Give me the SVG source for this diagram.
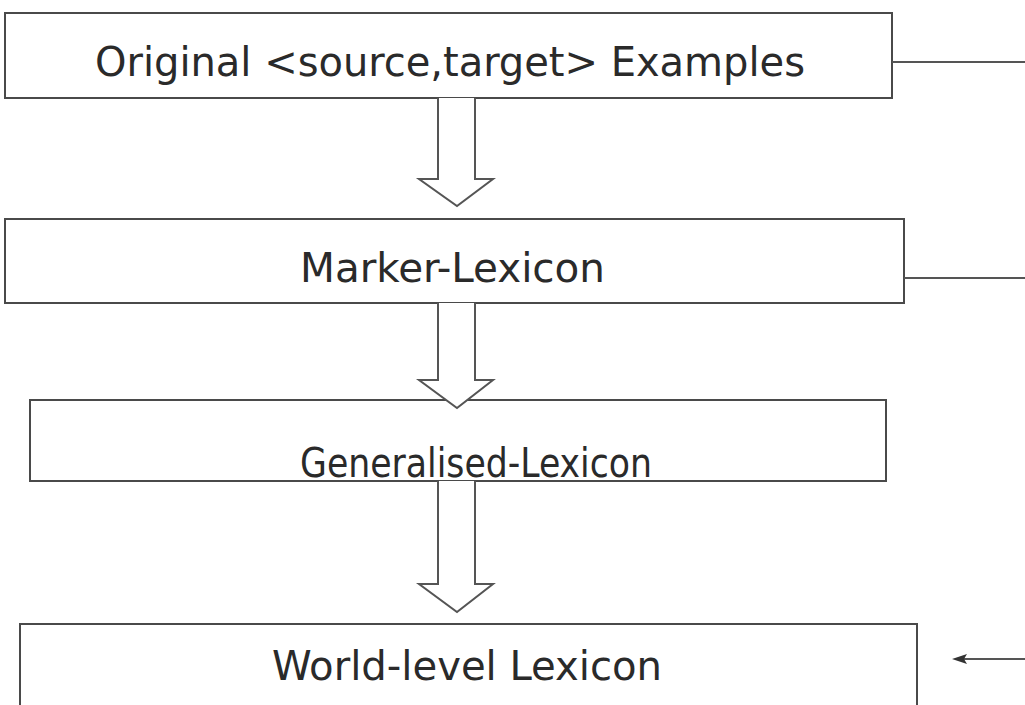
<svg xmlns="http://www.w3.org/2000/svg" width="1025" height="705" viewBox="0 0 1025 705">
  <style>
    .box { fill: #ffffff; stroke: #4a4a4a; stroke-width: 2; }
    .lbl { font-family: "DejaVu Sans Condensed", "DejaVu Sans", Verdana, sans-serif; font-size: 40px; fill: #2a2a2a; }
    .conn { fill: none; stroke: #555555; stroke-width: 2; }
    .flow { fill: #ffffff; stroke: #555555; stroke-width: 2; stroke-linejoin: miter; }
    .tip { fill: #333333; stroke: none; }
  </style>
  <rect width="1025" height="705" fill="#ffffff"/>

  <g id="node-examples">
    <rect class="box" x="5" y="13" width="887" height="85"/>
    <text class="lbl" x="95" y="76" textLength="710" lengthAdjust="spacingAndGlyphs">Original &lt;source,target&gt; Examples</text>
  </g>
  <g id="node-marker">
    <rect class="box" x="5" y="219" width="899" height="84"/>
    <text class="lbl" x="300" y="282" textLength="305" lengthAdjust="spacingAndGlyphs">Marker-Lexicon</text>
  </g>
  <g id="node-generalised">
    <rect class="box" x="30" y="400" width="856" height="81"/>
    <text class="lbl" x="300" y="477" textLength="352" lengthAdjust="spacingAndGlyphs">Generalised-Lexicon</text>
  </g>
  <g id="node-world">
    <rect class="box" x="20" y="624" width="897" height="90"/>
    <text class="lbl" x="272" y="680" textLength="390" lengthAdjust="spacingAndGlyphs">World-level Lexicon</text>
  </g>

  <g id="connectors">
    <!-- hollow block arrows between stages -->
    <path class="flow" d="M438,98 V179 H419 L457,206 L493,179 H475 V98"/>
    <path class="flow" d="M438,303 V380 H419 L457,408 L493,380 H475 V303"/>
    <path class="flow" d="M438,481 V584 H419 L457,612 L493,584 H475 V481"/>
    <!-- side lines -->
    <line class="conn" x1="892" y1="62" x2="1025" y2="62"/>
    <line class="conn" x1="904" y1="278" x2="1025" y2="278"/>
    <line class="conn" x1="1025" y1="659" x2="962" y2="659"/>
    <path class="tip" d="M952,659 L967,654 L964,659 L967,664 Z"/>
  </g>
</svg>
